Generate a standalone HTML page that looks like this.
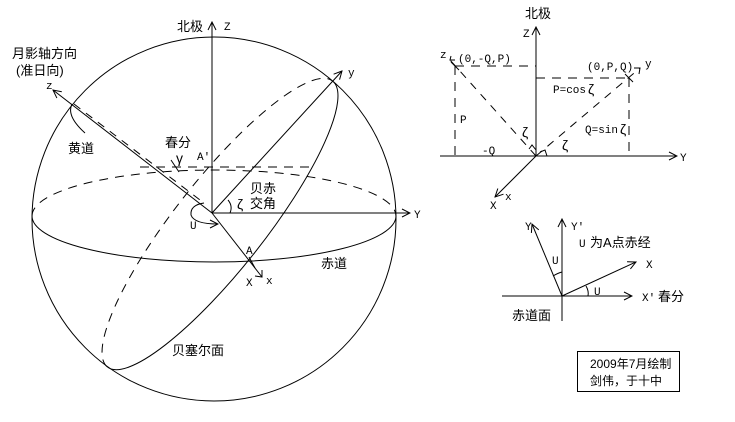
<!DOCTYPE html>
<html><head><meta charset="utf-8"><style>
html,body{margin:0;padding:0;background:#fff;}
svg{display:block;}
text{font-family:"Liberation Sans","Noto Sans CJK SC",sans-serif;font-size:13px;fill:#000;}
.m{font-family:"Liberation Mono","Noto Sans CJK SC",monospace;font-size:11px;}
</style></head><body>
<svg width="735" height="422" viewBox="0 0 735 422" xmlns="http://www.w3.org/2000/svg">
<defs>
<marker id="ar" markerWidth="10" markerHeight="10" refX="9" refY="5" orient="auto" markerUnits="userSpaceOnUse">
<path d="M1,1 L9,5 L1,9" fill="none" stroke="#000" stroke-width="1"/>
</marker>
</defs>
<g fill="none" stroke="#000" stroke-width="1">
<!-- sphere -->
<circle cx="214" cy="219" r="182"/>
<!-- equator -->
<path d="M32,216 A182,46 0 0 0 396,216"/>
<path d="M32,216 A182,46 0 0 1 396,216" stroke-dasharray="9,7"/>
<!-- Bessel plane -->
<g transform="translate(220,224) rotate(-51.8)">
<path d="M-182,0 A182,45 0 0 0 182,0"/>
<path d="M-182,0 A182,45 0 0 1 182,0" stroke-dasharray="9,7"/>
</g>
<!-- dashed horizontal -->
<line x1="140" y1="167" x2="315" y2="167" stroke-dasharray="9,7"/>
<!-- ecliptic dashed -->
<line x1="74" y1="104" x2="200" y2="200" stroke-dasharray="8,7"/>
<path d="M72,104 Q66,116 85,133"/>
<!-- axes -->
<line x1="212" y1="213" x2="212" y2="22" marker-end="url(#ar)"/>
<line x1="212" y1="213" x2="410" y2="213" marker-end="url(#ar)"/>
<line x1="212" y1="213" x2="342" y2="71" marker-end="url(#ar)"/>
<line x1="212" y1="213" x2="53" y2="90" marker-end="url(#ar)"/>
<line x1="212" y1="213" x2="262" y2="277"/>
<path d="M255,276 L262,277 L262,270"/>
<!-- angle arc -->
<path d="M228,200 Q233,206 230,213"/>
<!-- U arc -->
<path d="M204,203 Q190,205 191,215 Q194,224 218,224" marker-end="url(#ar)"/>
<!-- gamma/A marks -->
<line x1="171" y1="160" x2="179" y2="172"/><line x1="249" y1="257" x2="255" y2="268"/>

<!-- right top figure -->
<line x1="536" y1="156" x2="536" y2="27" marker-end="url(#ar)"/>
<line x1="440" y1="156" x2="677" y2="156" marker-end="url(#ar)"/>
<line x1="536" y1="156" x2="495" y2="197" marker-end="url(#ar)"/>
<line x1="536" y1="156" x2="450" y2="60" stroke-dasharray="8,7"/>
<path d="M451,56 L450,60 L455,60"/>
<line x1="536" y1="156" x2="640" y2="68" stroke-dasharray="8,7"/>
<path d="M634,68 L640,68 L639,74"/>
<line x1="455" y1="66" x2="536" y2="66" stroke-dasharray="9,7"/>
<line x1="455" y1="66" x2="455" y2="156" stroke-dasharray="9,7"/>
<line x1="536" y1="78" x2="629" y2="78" stroke-dasharray="9,7"/>
<line x1="629" y1="78" x2="629" y2="156" stroke-dasharray="9,7"/>
<line x1="451" y1="62" x2="459" y2="70"/><line x1="625" y1="74" x2="633" y2="82"/>
<path d="M529,149 L532,145 L536,150"/><path d="M540,152 L545,150 L547,156"/>

<!-- right lower figure -->
<line x1="562" y1="321" x2="562" y2="219" marker-end="url(#ar)"/>
<line x1="502" y1="296" x2="632" y2="296" marker-end="url(#ar)"/>
<line x1="562" y1="296" x2="532" y2="224" marker-end="url(#ar)"/>
<line x1="562" y1="296" x2="636" y2="262" marker-end="url(#ar)"/>
<path d="M553,276 Q558,273 562,272"/>
<path d="M586,286 Q589,291 588,296"/>
<rect x="577.5" y="351.5" width="102" height="40"/>
</g>
<g>
<text x="177" y="31">北极</text><text class="m" x="224" y="30">Z</text>
<text x="12" y="58">月影轴方向</text><text x="16" y="75">(准日向)</text>
<text class="m" x="46" y="89">z</text>
<text x="68" y="153">黄道</text>
<text x="165" y="147">春分</text>
<text x="176" y="163" style="font-size:14px">γ</text>
<text class="m" x="197" y="160">A'</text>
<text x="250" y="193">贝赤</text><text x="250" y="208">交角</text>
<text x="237" y="209" style="font-size:14px">ζ</text>
<text class="m" x="190" y="229">U</text>
<text class="m" x="246" y="254">A</text>
<text class="m" x="246" y="286">X</text><text class="m" x="266" y="284">x</text>
<text class="m" x="414" y="218">Y</text>
<text class="m" x="348" y="76">y</text>
<text x="321" y="268">赤道</text>
<text x="172" y="355">贝塞尔面</text>

<text x="525" y="18">北极</text><text class="m" x="523" y="37">Z</text>
<text class="m" x="440" y="58">z</text><text class="m" x="458" y="62">(0,-Q,P)</text>
<text class="m" x="587" y="70">(0,P,Q)</text><text class="m" x="645" y="67">y</text>
<text class="m" x="553" y="93">P=cos</text><text x="588" y="94" style="font-size:14px">ζ</text>
<text class="m" x="585" y="133">Q=sin</text><text x="620" y="134" style="font-size:14px">ζ</text>
<text class="m" x="460" y="123">P</text>
<text class="m" x="482" y="154">-Q</text>
<text x="522" y="137" style="font-size:14px">ζ</text>
<text x="562" y="150" style="font-size:14px">ζ</text>
<text class="m" x="680" y="161">Y</text>
<text class="m" x="490" y="209">X</text><text class="m" x="505" y="200">x</text>

<text class="m" x="525" y="230">Y</text><text class="m" x="571" y="230">Y'</text>
<text class="m" x="579" y="247">U</text><text x="590" y="247">为A点赤经</text>
<text class="m" x="552" y="264">U</text>
<text class="m" x="594" y="295">U</text>
<text class="m" x="646" y="268">X</text>
<text class="m" x="642" y="301">X'</text><text x="658" y="301">春分</text>
<text x="512" y="320">赤道面</text>
<text x="590" y="368" style="font-size:12px">2009年7月绘制</text>
<text x="590" y="385" style="font-size:12px">剑伟，于十中</text>
</g>
</svg>
</body></html>
